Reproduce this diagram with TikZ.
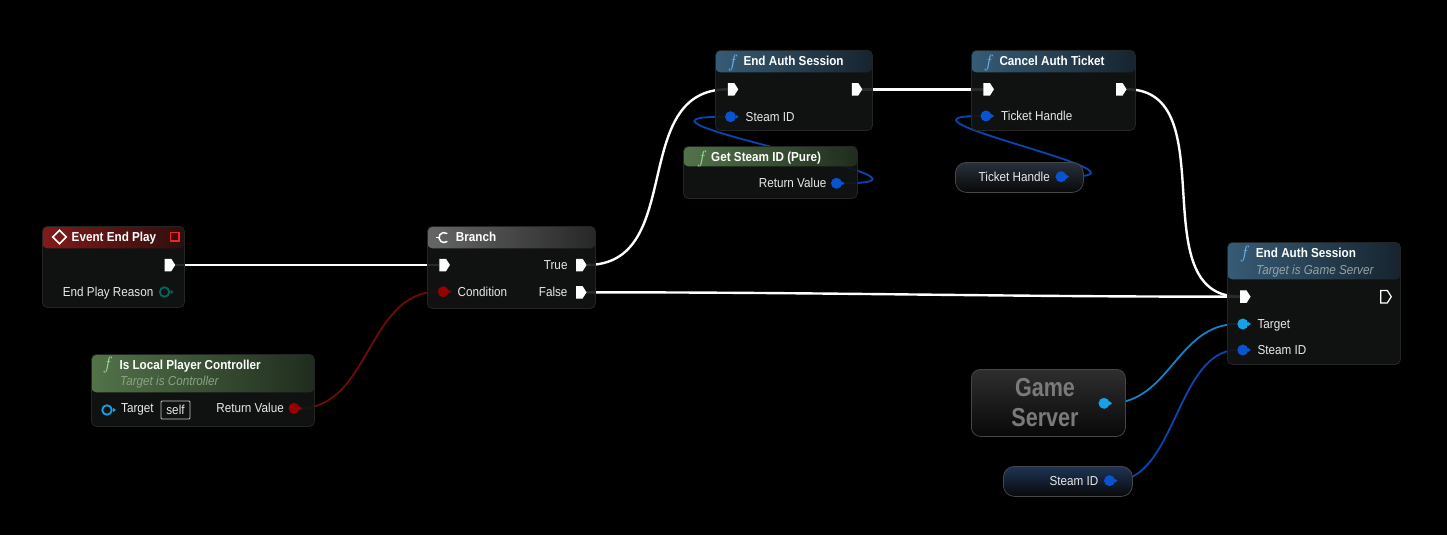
\documentclass[tikz,border=0pt]{standalone}
\usepackage{fontspec}
\setsansfont{Liberation Sans}[FakeStretch=0.9]
\newfontfamily\bigsans{Liberation Sans}[FakeStretch=0.83]
\usetikzlibrary{calc,shapes.geometric,shapes.symbols,arrows.meta,positioning}

\definecolor{bgblack}{RGB}{0,0,0}
\definecolor{bpbody}{RGB}{18,20,19}
\definecolor{bpedge}{RGB}{36,38,37}
\definecolor{hdred}{RGB}{142,28,28}
\definecolor{hdredd}{RGB}{50,14,14}
\definecolor{hdgreen}{RGB}{90,126,80}
\definecolor{hdgreend}{RGB}{34,48,32}
\definecolor{hdgrey}{RGB}{112,112,112}
\definecolor{hdgreyd}{RGB}{42,42,42}
\definecolor{hdblue}{RGB}{60,100,130}
\definecolor{hdblued}{RGB}{24,38,50}
\definecolor{evsq}{RGB}{232,40,40}
\definecolor{evsqd}{RGB}{60,10,10}
\definecolor{boolred}{RGB}{150,0,0}
\definecolor{boolwire}{RGB}{115,10,10}
\definecolor{objblue}{RGB}{22,160,232}
\definecolor{objwire}{RGB}{18,130,200}
\definecolor{structblue}{RGB}{8,84,208}
\definecolor{structwire}{RGB}{10,70,175}
\definecolor{enumteal}{RGB}{0,104,94}
\definecolor{labelwhite}{RGB}{232,232,232}
\definecolor{subgreen}{RGB}{140,162,130}
\definecolor{subblue}{RGB}{148,164,166}
\definecolor{fblue}{RGB}{110,182,242}
\definecolor{fgreen}{RGB}{160,222,150}
\definecolor{varedge}{RGB}{70,70,70}
\definecolor{varbot}{RGB}{8,8,8}
\definecolor{vargrey}{RGB}{46,46,46}
\definecolor{varslate}{RGB}{40,48,60}
\definecolor{varblue}{RGB}{30,52,86}
\definecolor{selfedge}{RGB}{200,200,200}
\definecolor{bigtext}{RGB}{122,122,122}

\pgfdeclarelayer{canvas}
\pgfdeclarelayer{wires}
\pgfsetlayers{canvas,wires,main}

\begin{document}
\begin{tikzpicture}[
  x=1pt, y=-1pt,
  font=\sffamily\fontsize{13pt}{15pt}\selectfont,
  bp/.style={draw=bpedge, fill=bpbody, fill opacity=0.9, rounded corners=5pt, line width=0.8pt, anchor=north west, inner sep=0pt},
  head/.style n args={3}{path picture={\shade[left color=#1, right color=#2]
      (path picture bounding box.north west) rectangle ([yshift=-#3]path picture bounding box.north east);}},
  getter/.style={draw=varedge, top color=#1, bottom color=varbot, rounded corners=11pt, line width=0.8pt, anchor=north west, inner sep=0pt},
  title/.style={anchor=base west, inner sep=0pt, text=white, font=\sffamily\bfseries\fontsize{13pt}{15pt}\selectfont},
  subtitle/.style={anchor=base west, inner sep=0pt, text=#1, font=\sffamily\itshape\fontsize{13pt}{15pt}\selectfont},
  pinl/.style={anchor=base west, inner sep=0pt, text=labelwhite},
  pinr/.style={anchor=base east, inner sep=0pt, text=labelwhite},
  ficon/.style={text=#1, inner sep=0pt, font=\rmfamily\itshape\fontsize{18pt}{18pt}\selectfont},
  exec/.style={signal, signal to=east, signal pointer angle=115, fill=white, minimum width=10.5pt, minimum height=12.5pt, inner sep=0pt},
  execopen/.style={exec, fill=none, draw=white, line width=1.2pt},
  pintip/.style={isosceles triangle, isosceles triangle apex angle=70, fill=#1, minimum size=3pt, inner sep=0pt, label distance=-0.8pt},
  datapin/.style={circle, fill=#1, minimum size=11pt, inner sep=0pt, label={[pintip=#1]0:{}}},
  openpin/.style={circle, draw=#1, line width=1.8pt, minimum size=9.5pt, inner sep=0pt, label={[pintip=#1, label distance=0.2pt]0:{}}},
  execwire/.style={draw=white, line width=2.4pt},
  datawire/.style={draw=#1, line width=1.8pt}
]
  \useasboundingbox (0,0) rectangle (1447,535);
  \begin{pgfonlayer}{canvas}
    \fill[bgblack] (0,0) rectangle (1447,535);
  \end{pgfonlayer}

  % event end play
  \node[bp, head={hdred}{hdredd}{22pt}, minimum width=142pt, minimum height=81pt] (eep) at (42,226) {};
  \node[diamond, draw=white, line width=1.6pt, minimum size=14pt, inner sep=0pt] (eep-ic) at (59.5,237) {};
  \node[title] (eep-t) at (71.5,241) {Event End Play};
  \node[draw=evsq, fill=evsqd, line width=1.5pt, minimum size=8.5pt, inner sep=0pt] (eep-dl) at (174.7,236.7) {};
  \node[exec] (eep-out) at (168,265) {};
  \node[pinr] (eep-rl) at (153.5,296) {End Play Reason};
  \node[openpin=enumteal] (eep-rsn) at (164.5,292) {};

  % is local player controller
  \node[bp, head={hdgreen}{hdgreend}{38pt}, minimum width=223pt, minimum height=72pt] (ilp) at (91,354) {};
  \node[ficon=fgreen] (ilp-ic) at (106.7,364.7) {f};
  \node[title] (ilp-t) at (119.3,369.3) {Is Local Player Controller};
  \node[subtitle=subgreen] (ilp-s) at (120,385.7) {Target is Controller};
  \node[openpin=objblue] (ilp-tgt) at (107,410) {};
  \node[pinl] (ilp-tl) at (121,412.5) {Target};
  \node[draw=selfedge, line width=0.9pt, rounded corners=1pt, minimum width=29pt, minimum height=18pt, inner sep=0pt, text=labelwhite] (ilp-self) at (175.5,410) {self};
  \node[pinr] (ilp-rl) at (284,412.5) {Return Value};
  \node[datapin=boolred] (ilp-ret) at (294,408.3) {};

  % branch
  \node[bp, head={hdgrey}{hdgreyd}{22pt}, minimum width=168pt, minimum height=82pt] (brc) at (427,226) {};
  \coordinate (brc-ic) at (444,237.5);
  \draw[white, line width=1.5pt, line cap=round] ([shift={(55:5pt)}]brc-ic) arc[start angle=55, end angle=305, radius=5pt];
  \draw[white, line width=1.5pt] ([xshift=-8pt]brc-ic) -- ([xshift=-4.5pt]brc-ic);
  \node[title] (brc-t) at (455.7,241) {Branch};
  \node[exec] (brc-in) at (442.7,265) {};
  \node[datapin=boolred] (brc-cond) at (443.3,291.7) {};
  \node[pinl] (brc-cl) at (457.5,296) {Condition};
  \node[pinr] (brc-tl) at (567.7,269) {True};
  \node[exec] (brc-true) at (579.3,265) {};
  \node[pinr] (brc-fl) at (567.7,296) {False};
  \node[exec] (brc-false) at (579.3,292.3) {};

  % end auth session
  \node[bp, head={hdblue}{hdblued}{22pt}, minimum width=157pt, minimum height=80pt] (eas) at (715,50) {};
  \node[ficon=fblue] (eas-ic) at (732,62.8) {f};
  \node[title] (eas-t) at (743.3,65.5) {End Auth Session};
  \node[exec] (eas-in) at (731,89.3) {};
  \node[exec] (eas-out) at (855,89.3) {};
  \node[datapin=structblue] (eas-sid) at (730.5,116.7) {};
  \node[pinl] (eas-sl) at (745.5,121) {Steam ID};

  % get steam id
  \node[bp, head={hdgreen}{hdgreend}{20pt}, minimum width=174pt, minimum height=52pt] (gsid) at (683,146) {};
  \node[ficon=fgreen] (gsid-ic) at (701,158.8) {f};
  \node[title] (gsid-t) at (711,161.5) {Get Steam ID (Pure)};
  \node[pinr] (gsid-rl) at (826.5,187.5) {Return Value};
  \node[datapin=structblue] (gsid-ret) at (836.5,183.3) {};

  % cancel auth ticket
  \node[bp, head={hdblue}{hdblued}{22pt}, minimum width=164pt, minimum height=80pt] (cat) at (971,50) {};
  \node[ficon=fblue] (cat-ic) at (987.8,62.8) {f};
  \node[title] (cat-t) at (999.3,65.5) {Cancel Auth Ticket};
  \node[exec] (cat-in) at (986.7,89.3) {};
  \node[exec] (cat-out) at (1119.3,89.3) {};
  \node[datapin=structblue] (cat-th) at (986,116) {};
  \node[pinl] (cat-tl) at (1001,120.5) {Ticket Handle};

  % ticket handle getter
  \node[getter=varslate, minimum width=128pt, minimum height=30pt] (thv) at (955,162) {};
  \node[pinl] (thv-l) at (978.5,181.5) {Ticket Handle};
  \node[datapin=structblue] (thv-out) at (1061,176.7) {};

  % end auth session on the game server
  \node[bp, head={hdblue}{hdblued}{37pt}, minimum width=173pt, minimum height=122pt] (eags) at (1227,242) {};
  \node[ficon=fblue] (eags-ic) at (1243.8,253.8) {f};
  \node[title] (eags-t) at (1255.7,257) {End Auth Session};
  \node[subtitle=subblue] (eags-s) at (1256,274) {Target is Game Server};
  \node[exec] (eags-in) at (1243.3,296.7) {};
  \node[execopen] (eags-out) at (1384,296.7) {};
  \node[datapin=objblue] (eags-tgt) at (1242.8,324) {};
  \node[pinl] (eags-tl) at (1257.3,328.3) {Target};
  \node[datapin=structblue] (eags-sid) at (1242.8,350) {};
  \node[pinl] (eags-sl) at (1257.3,354.3) {Steam ID};

  % game server getter
  \node[getter=vargrey, rounded corners=9pt, minimum width=154pt, minimum height=67pt] (gsv) at (971,369) {};
  \node[text=bigtext, align=center, inner sep=0pt, font=\bigsans\bfseries\fontsize{26pt}{30.7pt}\selectfont] (gsv-l) at (1045,402.5) {Game\\Server};
  \node[datapin=objblue] (gsv-out) at (1104,403.3) {};

  % steam id getter
  \node[getter=varblue, minimum width=129pt, minimum height=30pt] (sidv) at (1003,466) {};
  \node[pinr] (sidv-l) at (1098.5,485) {Steam ID};
  \node[datapin=structblue] (sidv-out) at (1109.5,480.7) {};

  % wires
  \begin{pgfonlayer}{wires}
    \draw[execwire] (eep-out.east) -- (brc-in.west);
    \draw[execwire] (brc-true.east) .. controls +(100,0) and +(-100,0) .. (eas-in.west);
    \draw[execwire] (eas-out.east) -- (cat-in.west);
    \draw[execwire] (cat-out.east) .. controls +(100,0) and +(-100,0) .. (eags-in.west);
    \draw[execwire] (brc-false.east) .. controls +(250,0) and +(-250,0) .. (eags-in.west);
    \draw[datawire=boolwire] (ilp-ret.east) .. controls +(70,0) and +(-70,0) .. (brc-cond.west);
    \draw[datawire=structwire] (gsid-ret.east) .. controls +(140,0) and +(-140,0) .. (eas-sid.west);
    \draw[datawire=structwire] (thv-out.east) .. controls +(110,0) and +(-110,0) .. (cat-th.west);
    \draw[datawire=objwire] (gsv-out.east) .. controls +(60,0) and +(-60,0) .. (eags-tgt.west);
    \draw[datawire=structwire] (sidv-out.east) .. controls +(60,0) and +(-60,0) .. (eags-sid.west);
  \end{pgfonlayer}
\end{tikzpicture}
\end{document}
